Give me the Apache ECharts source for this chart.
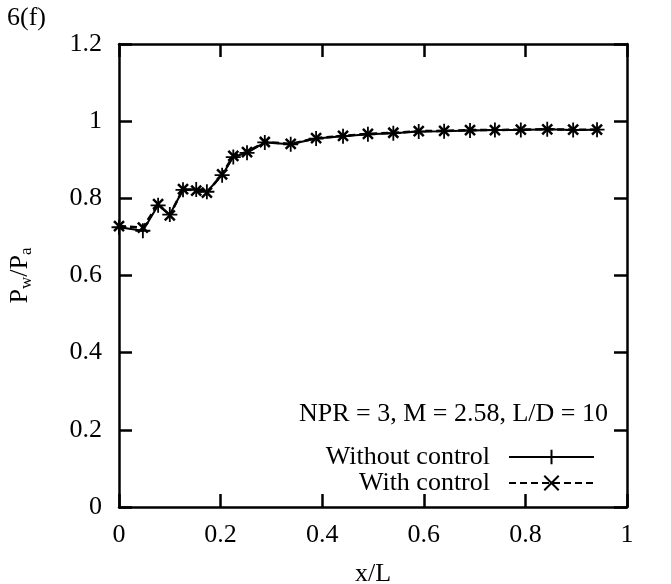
<!doctype html>
<html>
<head>
    <meta charset="utf-8">
    <title>6(f)</title>
    <script src="https://cdn.jsdelivr.net/npm/echarts@6/dist/echarts.min.js"></script>
    <style>
        body{ margin:0; padding:0; background:#fff; }
        #chart{ width:671px; height:584px; }
    </style>
</head>
<body>
<div id="chart"></div>
<script>
    // x/L positions of the measurement stations
    var xs = [0, 0.047, 0.077, 0.100, 0.126, 0.152, 0.173, 0.203, 0.225, 0.252, 0.287, 0.338,
              0.388, 0.441, 0.490, 0.540, 0.590, 0.640, 0.691, 0.740, 0.791, 0.843, 0.894, 0.941];
    // Pw/Pa without control
    var withoutCtrl = [0.725, 0.716, 0.782, 0.758, 0.822, 0.823, 0.817, 0.860, 0.907, 0.918, 0.945, 0.940,
                       0.955, 0.961, 0.966, 0.969, 0.973, 0.974, 0.976, 0.977, 0.977, 0.979, 0.977, 0.978];
    // Pw/Pa with control
    var withCtrl = [0.728, 0.724, 0.785, 0.756, 0.824, 0.820, 0.815, 0.862, 0.910, 0.920, 0.946, 0.941,
                    0.956, 0.962, 0.967, 0.970, 0.974, 0.975, 0.977, 0.977, 0.978, 0.979, 0.978, 0.978];
    var seriesNames = ['Without control', 'With control'];

    function pairs(vals){
        var out = [];
        for (var i = 0; i < xs.length; i++) out.push([xs[i], vals[i]]);
        return out;
    }

    var serif = '"Liberation Serif", "DejaVu Serif", serif';
    var fs = 26;
    var plusSym = 'path://M0,-10 L0,10 M-10,0 L10,0';
    var crossSym = 'path://M-10,-10 L10,10 M-10,10 L10,-10';

    var chart = echarts.init(document.getElementById('chart'));
    var axisLine = { show: true, onZero: false, lineStyle: { color: '#000', width: 2.5 } };
    var tick = { inside: true, length: 13, lineStyle: { color: '#000', width: 2.5 } };
    var option = {
        backgroundColor: '#fff',
        animation: false,
        grid: { left: 119, right: 44, top: 44, bottom: 77, containLabel: false, outerBoundsMode: 'none' },
        graphic: [
            { type: 'text', left: 7, top: 5,
              style: { text: '6(f)', font: fs + 'px ' + serif, fill: '#000' } },
            { type: 'text', right: 63, top: 401,
              style: { text: 'NPR = 3, M = 2.58, L/D = 10', font: fs + 'px ' + serif, fill: '#000' } }
        ],
        legend: {
            orient: 'vertical',
            right: 71,
            top: 439,
            align: 'right',
            itemWidth: 85,
            itemHeight: 18,
            itemGap: 0,
            textStyle: { fontFamily: serif, fontSize: fs, color: '#000', padding: [0, 14, 0, 0] },
            data: seriesNames
        },
        xAxis: [{
            type: 'value', min: 0, max: 1, interval: 0.2,
            name: 'x/L', nameLocation: 'middle', nameGap: 54,
            nameTextStyle: { fontFamily: serif, fontSize: fs, color: '#000' },
            axisLine: axisLine,
            axisTick: tick,
            axisLabel: { margin: 15, fontFamily: serif, fontSize: fs, color: '#000' },
            splitLine: { show: false }
        }, {
            type: 'value', min: 0, max: 1, interval: 0.2, position: 'top',
            axisLine: axisLine,
            axisTick: tick,
            axisLabel: { show: false },
            splitLine: { show: false }
        }],
        yAxis: [{
            type: 'value', min: 0, max: 1.2, interval: 0.2,
            name: '{a|P}{s|w}{a|/P}{s|a}', nameLocation: 'middle', nameGap: 84,
            nameTextStyle: {
                rich: {
                    a: { fontFamily: serif, fontSize: fs, color: '#000' },
                    s: { fontFamily: serif, fontSize: 17, color: '#000', padding: [12, 0, 0, 0] }
                }
            },
            axisLine: axisLine,
            axisTick: tick,
            axisLabel: { margin: 17, fontFamily: serif, fontSize: fs, color: '#000' },
            splitLine: { show: false }
        }, {
            type: 'value', min: 0, max: 1.2, interval: 0.2, position: 'right',
            axisLine: axisLine,
            axisTick: tick,
            axisLabel: { show: false },
            splitLine: { show: false }
        }],
        series: [{
            name: seriesNames[0],
            type: 'line',
            data: pairs(withoutCtrl),
            symbol: plusSym,
            symbolSize: 15,
            lineStyle: { color: '#000', width: 2 },
            itemStyle: { color: '#000', borderColor: '#000', borderWidth: 1.8 },
            z: 3
        }, {
            name: seriesNames[1],
            type: 'line',
            data: pairs(withCtrl),
            symbol: crossSym,
            symbolSize: 10,
            lineStyle: { color: '#000', width: 2.5, type: [7, 4] },
            itemStyle: { color: '#000', borderColor: '#000', borderWidth: 2.5 },
            z: 4
        }]
    };
    chart.setOption(option);
</script>
</body>
</html>
